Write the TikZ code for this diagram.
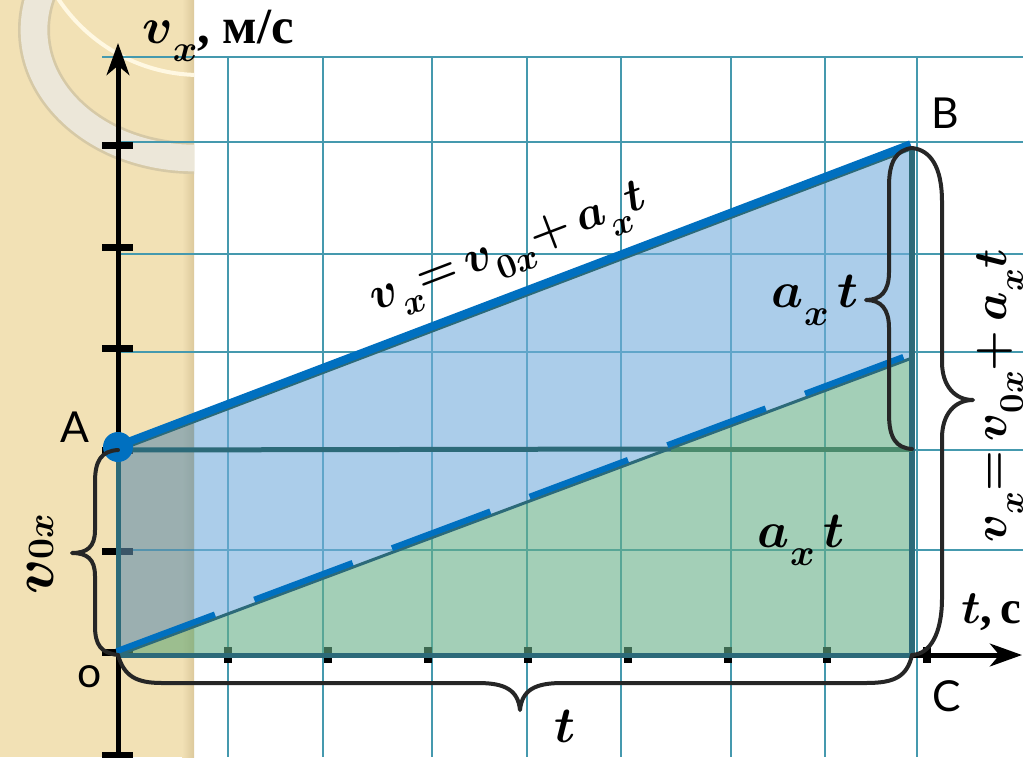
\RequirePackage{fix-cm}
\documentclass[tikz,border=0pt]{standalone}
\usepackage{fontspec}
\usetikzlibrary{arrows.meta}
\newfontfamily\sansf{Lato}
\newfontfamily\cyrf{Liberation Serif}
\newcommand{\mysub}[1]{\raisebox{-0.36em}{\fontsize{28}{28}\selectfont$#1$}}
\newcommand{\mysubs}[1]{\raisebox{-0.36em}{\fontsize{26}{26}\selectfont$#1$}}
\definecolor{beige}{HTML}{F2E1B5}
\definecolor{beigeshade}{HTML}{DCC99C}
\definecolor{ringband}{HTML}{ECE7D9}
\definecolor{ringedge}{HTML}{D6C9A6}
\definecolor{creamarc}{HTML}{FFF8E2}
\definecolor{gridc}{HTML}{4599AE}
\definecolor{tealc}{HTML}{2C6A79}
\definecolor{tealg}{HTML}{4A8A6C}
\definecolor{bluel}{HTML}{0070C0}
\definecolor{bluefill}{HTML}{73ADDC}
\definecolor{greenfill}{HTML}{66AF87}
\definecolor{bluefillb}{HTML}{618FAD}
\definecolor{greenfillb}{HTML}{64A776}
\definecolor{bracec}{HTML}{262626}
\tikzset{
  gridline/.style={gridc, line width=1.5pt},
  axisline/.style={black, line width=3.75pt},
  tealline/.style={tealc, line width=3.75pt},
  bracepath/.style={bracec, line width=3pt, line cap=round, line join=round},
  mathlab/.style={font=\fontsize{38}{44}\selectfont\boldmath, inner sep=0pt, anchor=base},
  formula/.style={font=\fontsize{35}{40}\selectfont\boldmath, inner sep=0pt, anchor=base},
  ptlab/.style={font=\sansf\fontsize{32}{36}\selectfont, inner sep=0pt, anchor=base},
  axtip/.style={-{Stealth[length=24pt,width=17pt,inset=7pt]}},
}
\begin{document}
\begin{tikzpicture}[x=0.75pt,y=-0.75pt]
\useasboundingbox (0,0) rectangle (1023,757);
\fill[white] (0,0) rectangle (1023,757);
% beige side strip with decoration
\fill[beige] (0,0) rectangle (194,757);
\shade[left color=beige, right color=beigeshade] (182,0) rectangle (194,757);
\begin{scope}
  \clip (0,0) rectangle (194,757);
  \draw[ringedge, line width=24pt] (194,30) ellipse[x radius=160, y radius=128];
  \draw[ringband, line width=20pt] (194,30) ellipse[x radius=160, y radius=128];
  \draw[creamarc, line width=3pt] (200,-95) circle[radius=170];
\end{scope}
% named points
\coordinate (O) at (118,655);
\coordinate (A) at (118,450);
\coordinate (B) at (912,148);
\coordinate (C) at (912,655);
\coordinate (D) at (912,358);
\coordinate (E) at (912,449);
\coordinate (F) at (671,449);
\coordinate (vtop) at (118,43);
\coordinate (vbot) at (118,757);
\coordinate (ttip) at (1022,655);
% grid
\draw[gridline] (102,57) -- (1023,57);
\foreach \y in {142,254,352,450,550}
  \draw[gridline] (118,\y) -- (1023,\y);
\foreach \x in {228,323,432,527,621,731,825,917}
  \draw[gridline] (\x,57) -- (\x,757);
% axes
\draw[axisline, axtip] (vbot) -- (vtop);
\foreach \y in {145,247,348,450,551,652,755}
  \draw[black, line width=5.25pt] (102,\y) -- (133,\y);
\draw[axisline, axtip] (O) -- (ttip);
\foreach \k in {0,...,7}
  \draw[black, line width=6pt] (228+99.9*\k,647) -- (228+99.9*\k,663);
% fills
\begin{scope}
  \clip (194,0) rectangle (1023,757);
  \fill[bluefill, opacity=0.6] (O) -- (A) -- (B) -- (D) -- cycle;
  \fill[greenfill, opacity=0.6] (O) -- (D) -- (C) -- cycle;
\end{scope}
\begin{scope}
  \clip (0,0) rectangle (194,757);
  \fill[bluefillb, opacity=0.6] (O) -- (A) -- (B) -- (D) -- cycle;
  \fill[greenfillb, opacity=0.6] (O) -- (D) -- (C) -- cycle;
\end{scope}
% thick teal lines
\draw[tealline] (A) -- (O);
\draw[tealline] (O) -- (C);
\draw[tealc, line width=4.5pt] (B) -- (C);
\draw[tealline] (A) -- (F);
\draw[tealg, line width=3.75pt] (F) -- (E);
\draw[tealc, line width=3pt] (A) -- (B);
\draw[tealc, line width=2.25pt] (O) -- (D);
% blue lines
\draw[bluel, line width=6pt] ([shift={(-1.4,-3.7)}]A) -- ([shift={(-1.4,-3.7)}]B);
\draw[bluel, line width=4.5pt, dash pattern=on 78.75pt off 31.5pt] ([shift={(-1.4,-3.8)}]O) -- ([shift={(-1.4,-3.8)}]D);
\fill[bluel] (118,447) circle[radius=15];
% braces
\draw[bracepath] (A) .. controls (101,451) and (95,461) .. (95,482) -- (95,530)
  .. controls (95,547) and (87,553) .. (72,553)
  .. controls (87,553) and (95,559) .. (95,576) -- (95,626)
  .. controls (95,645) and (101,653) .. (O);
\draw[bracepath] (O) .. controls (124,676) and (136,683) .. (162,683) -- (478,683)
  .. controls (505,683) and (518,690) .. (520,710)
  .. controls (522,690) and (535,683) .. (562,683) -- (866,683)
  .. controls (894,683) and (907,677) .. (C);
\draw[bracepath] (B) .. controls (896,150) and (889,162) .. (889,186) -- (889,272)
  .. controls (889,291) and (881,300) .. (866,300)
  .. controls (881,300) and (889,309) .. (889,328) -- (889,414)
  .. controls (889,438) and (896,448) .. (E);
\draw[bracepath] (B) .. controls (930,150) and (942,166) .. (942,202) -- (942,362)
  .. controls (942,386) and (955,400) .. (973,400)
  .. controls (955,400) and (942,414) .. (942,438) -- (942,598)
  .. controls (942,634) and (930,654) .. (C);
% point labels
\node[ptlab] (Alab) at (75,442) {A};
\node[ptlab] (Blab) at (945,128) {B};
\node[ptlab] (Clab) at (947,711) {C};
\node[ptlab] (Olab) at (90,687) {o};
% axis labels
\node[mathlab, anchor=base west] (vlab) at (142,43) {$v$\mysub{x}{\cyrf\bfseries, м/с}};
\node[mathlab, anchor=base west, font=\fontsize{35}{40}\selectfont\boldmath] (tlab) at (961,623) {$t${\cyrf\bfseries,\,с}};
% quantity labels
\node[mathlab] (tbot) at (565,742) {$t$};
\node[mathlab] (axt1) at (815,307) {$a$\mysub{x}\,$t$};
\node[mathlab] (axt2) at (801,547) {$a$\mysub{x}\,$t$};
\node[formula, rotate=20.83] (f1) at (512,259) {$v$\mysubs{x}${=}\,v$\mysubs{0x}${+}\,a$\mysubs{x}$t$};
\node[formula, rotate=90] (f2) at (1006,396) {$v$\mysubs{x}${=}\,v$\mysubs{0x}${+}\,a$\mysubs{x}$t$};
\node[mathlab, rotate=90, font=\fontsize{44}{48}\selectfont\boldmath] (v0) at (53,554) {$v${\fontsize{28}{28}\selectfont$0x$}};
\end{tikzpicture}
\end{document}
